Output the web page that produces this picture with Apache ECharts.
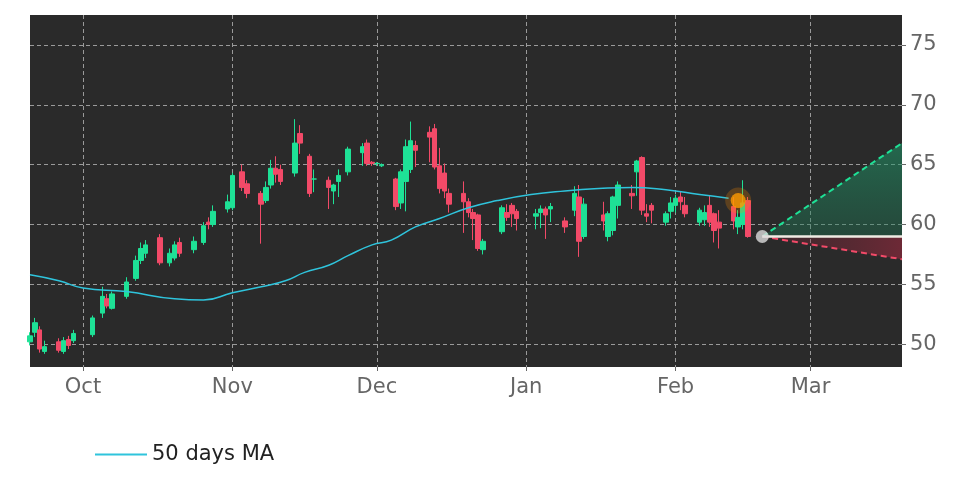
<!DOCTYPE html>
<html>
<head>
<meta charset="utf-8">
<script src="https://cdn.jsdelivr.net/npm/echarts@6/dist/echarts.min.js"></script>
<style>html,body{margin:0;background:#fff}#c{width:972px;height:486px}</style>
</head>
<body>
<div id="c"></div>
<script>
// daily candles: [date, open, close, low, high]
const candles = [
    ['2022-09-20', 50.2, 50.7, 49.9, 51.0],
    ['2022-09-21', 51.0, 51.8, 50.6, 52.2],
    ['2022-09-22', 51.2, 49.6, 49.3, 51.5],
    ['2022-09-23', 49.4, 49.8, 49.2, 50.3],
    ['2022-09-26', 50.2, 49.5, 49.3, 50.5],
    ['2022-09-27', 49.4, 50.3, 49.2, 50.6],
    ['2022-09-28', 50.4, 49.9, 49.6, 50.7],
    ['2022-09-29', 50.3, 50.9, 50.1, 51.2],
    ['2022-10-03', 50.8, 52.2, 50.6, 52.4],
    ['2022-10-05', 52.6, 54.0, 52.2, 54.8],
    ['2022-10-06', 53.8, 53.2, 53.0, 54.2],
    ['2022-10-07', 53.0, 54.2, 52.9, 54.4],
    ['2022-10-10', 54.0, 55.2, 53.8, 55.6],
    ['2022-10-12', 55.5, 57.0, 55.3, 57.4],
    ['2022-10-13', 57.0, 58.0, 56.7, 58.5],
    ['2022-10-14', 57.6, 58.3, 57.2, 58.7],
    ['2022-10-17', 58.9, 56.8, 56.6, 59.2],
    ['2022-10-19', 56.8, 57.6, 56.5, 58.0],
    ['2022-10-20', 57.2, 58.3, 57.0, 58.6],
    ['2022-10-21', 58.5, 57.6, 57.3, 58.9],
    ['2022-10-24', 57.9, 58.6, 57.6, 59.0],
    ['2022-10-26', 58.5, 59.9, 58.3, 60.2],
    ['2022-10-27', 60.2, 60.0, 59.6, 60.6],
    ['2022-10-28', 60.0, 61.1, 59.8, 61.6],
    ['2022-10-31', 61.3, 61.9, 61.0, 62.5],
    ['2022-11-01', 61.4, 64.1, 61.2, 64.3],
    ['2022-11-03', 64.4, 63.1, 62.8, 65.0],
    ['2022-11-04', 63.4, 62.6, 62.2, 63.7],
    ['2022-11-07', 62.6, 61.7, 58.4, 62.8],
    ['2022-11-08', 62.0, 63.1, 61.8, 63.6],
    ['2022-11-09', 63.3, 64.7, 63.0, 65.4],
    ['2022-11-10', 64.7, 64.2, 63.5, 65.7],
    ['2022-11-11', 64.6, 63.6, 63.3, 65.0],
    ['2022-11-14', 64.3, 66.8, 64.0, 68.8],
    ['2022-11-15', 67.6, 66.8, 65.9, 68.3],
    ['2022-11-17', 65.7, 62.6, 62.3, 65.9],
    ['2022-11-18', 63.8, 63.8, 62.7, 64.6],
    ['2022-11-21', 63.7, 63.1, 61.3, 64.0],
    ['2022-11-22', 62.8, 63.3, 61.7, 63.4],
    ['2022-11-23', 63.6, 64.1, 62.3, 64.6],
    ['2022-11-25', 64.4, 66.3, 64.1, 66.5],
    ['2022-11-28', 66.0, 66.5, 64.9, 66.8],
    ['2022-11-29', 66.8, 65.1, 64.9, 67.1],
    ['2022-11-30', 65.2, 65.1, 64.9, 65.3],
    ['2022-12-01', 65.1, 65.1, 64.9, 65.2],
    ['2022-12-02', 64.9, 65.0, 64.8, 65.1],
    ['2022-12-05', 63.8, 61.5, 61.2, 63.9],
    ['2022-12-06', 61.8, 64.4, 61.3, 64.6],
    ['2022-12-07', 63.6, 66.5, 61.1, 67.1],
    ['2022-12-08', 64.6, 67.0, 64.3, 68.6],
    ['2022-12-09', 66.6, 66.2, 64.8, 67.0],
    ['2022-12-12', 67.7, 67.3, 65.2, 68.2],
    ['2022-12-13', 68.0, 64.8, 64.6, 68.4],
    ['2022-12-14', 64.9, 63.0, 62.6, 66.4],
    ['2022-12-15', 64.3, 62.8, 62.2, 65.1],
    ['2022-12-16', 62.6, 61.7, 61.0, 63.0],
    ['2022-12-19', 62.6, 61.9, 59.3, 63.6],
    ['2022-12-20', 61.9, 61.0, 60.6, 62.2],
    ['2022-12-21', 61.0, 60.5, 58.7, 61.3],
    ['2022-12-22', 60.8, 58.0, 57.8, 60.9],
    ['2022-12-23', 57.9, 58.6, 57.5, 58.8],
    ['2022-12-27', 59.4, 61.4, 59.2, 61.6],
    ['2022-12-28', 61.0, 60.6, 60.3, 61.7],
    ['2022-12-29', 61.6, 60.9, 59.8, 61.8],
    ['2022-12-30', 61.1, 60.5, 59.5, 61.3],
    ['2023-01-03', 60.7, 60.9, 59.6, 61.3],
    ['2023-01-04', 61.0, 61.3, 59.7, 61.6],
    ['2023-01-05', 61.3, 60.8, 58.8, 61.5],
    ['2023-01-06', 61.3, 61.5, 60.2, 61.8],
    ['2023-01-09', 60.3, 59.8, 59.3, 60.6],
    ['2023-01-11', 61.2, 62.6, 60.7, 63.2],
    ['2023-01-12', 62.3, 58.6, 57.3, 63.3],
    ['2023-01-13', 59.0, 61.7, 58.8, 62.2],
    ['2023-01-17', 60.8, 60.3, 59.5, 61.9],
    ['2023-01-18', 59.0, 60.9, 58.6, 61.1],
    ['2023-01-19', 59.5, 62.3, 59.1, 62.4],
    ['2023-01-20', 61.6, 63.3, 60.5, 63.6],
    ['2023-01-23', 62.6, 62.4, 61.3, 63.3],
    ['2023-01-24', 64.4, 65.3, 62.4, 65.4],
    ['2023-01-25', 65.6, 61.2, 60.8, 65.7],
    ['2023-01-26', 60.9, 60.7, 60.2, 61.7],
    ['2023-01-27', 61.6, 61.2, 60.1, 61.8],
    ['2023-01-30', 60.2, 60.9, 59.9, 61.1],
    ['2023-01-31', 61.1, 61.8, 60.5, 62.3],
    ['2023-02-01', 61.6, 62.2, 61.0, 62.5],
    ['2023-02-02', 62.3, 61.9, 61.2, 62.8],
    ['2023-02-03', 61.6, 60.9, 60.6, 62.3],
    ['2023-02-06', 60.2, 61.2, 59.9, 61.4],
    ['2023-02-07', 60.4, 61.0, 59.9, 61.6],
    ['2023-02-08', 61.6, 60.2, 59.8, 62.4],
    ['2023-02-09', 60.9, 59.5, 58.5, 61.0],
    ['2023-02-10', 60.2, 59.7, 58.0, 61.2],
    ['2023-02-13', 61.5, 60.3, 59.6, 62.3],
    ['2023-02-14', 59.8, 60.6, 59.2, 61.2],
    ['2023-02-15', 60.0, 61.8, 59.6, 63.7],
    ['2023-02-16', 62.0, 59.0, 58.9, 62.3]
];

// 50 days moving average
const maPoints = [
    ['2022-09-20', 55.8], ['2022-09-26', 55.3], ['2022-10-01', 54.7],
    ['2022-10-10', 54.4], ['2022-10-20', 53.8], ['2022-10-26', 53.7],
    ['2022-11-01', 54.3], ['2022-11-07', 54.8], ['2022-11-12', 55.3],
    ['2022-11-16', 56.0], ['2022-11-21', 56.6], ['2022-11-25', 57.4],
    ['2022-11-30', 58.3], ['2022-12-04', 58.7], ['2022-12-09', 59.8],
    ['2022-12-14', 60.5], ['2022-12-20', 61.4], ['2022-12-26', 62.0],
    ['2023-01-02', 62.5], ['2023-01-09', 62.8], ['2023-01-16', 63.0],
    ['2023-01-23', 63.1], ['2023-01-30', 62.9], ['2023-02-06', 62.5],
    ['2023-02-12', 62.2]
];

const lastOpen = ['2023-02-14', 62.0];
const forecastStart = ['2023-02-19', 59.0];
const forecastEnd = '2023-03-20';
const forecastHigh = 66.8;
const forecastLow = 57.1;

const monthTicks = ['2022-10-01', '2022-11-01', '2022-12-01', '2023-01-01', '2023-02-01', '2023-03-01'];
const monthNames = ['Jan', 'Feb', 'Mar', 'Apr', 'May', 'Jun', 'Jul', 'Aug', 'Sep', 'Oct', 'Nov', 'Dec'];
const priceTicks = [50, 55, 60, 65, 70, 75];

const green = '#1ee196';
const red = '#f24a68';
const gridLine = { show: true, lineStyle: { color: '#9a9a9a', type: [4, 3], width: 1 } };
const ts = (d) => new Date(d + 'T00:00:00').getTime();

const chart = echarts.init(document.getElementById('c'));
chart.setOption({
    animation: false,
    backgroundColor: '#ffffff',
    grid: {
        left: 30, right: 70, top: 15, bottom: 119,
        show: true, backgroundColor: '#2a2a2a', borderWidth: 0
    },
    legend: {
        left: 90, bottom: 16,
        itemWidth: 52, itemHeight: 2, itemGap: 20,
        textStyle: { color: '#222', fontSize: 21, fontFamily: 'DejaVu Sans' },
        data: [{ name: '50 days MA', icon: 'rect' }]
    },
    xAxis: {
        type: 'value',
        min: ts('2022-09-20'), max: ts(forecastEnd),
        axisLine: { show: false },
        axisTick: { show: true, customValues: monthTicks.map(ts), length: 4, lineStyle: { color: '#666' } },
        axisLabel: {
            customValues: monthTicks.map(ts),
            formatter: (v) => monthNames[new Date(v).getMonth()],
            color: '#666', fontSize: 21, fontFamily: 'DejaVu Sans', margin: 10
        },
        splitLine: gridLine
    },
    yAxis: {
        type: 'value', position: 'right',
        min: 48.1, max: 77.5,
        axisLine: { show: false },
        axisTick: { show: true, customValues: priceTicks, length: 4, lineStyle: { color: '#666' } },
        axisLabel: {
            customValues: priceTicks,
            color: '#666', fontSize: 21, fontFamily: 'DejaVu Sans', margin: 8
        },
        splitLine: gridLine
    },
    series: [
        {
            type: 'candlestick',
            barWidth: 5,
            itemStyle: { color: green, color0: red, borderColor: green, borderColor0: red, borderWidth: 1 },
            data: candles.map((c) => [ts(c[0]), c[1], c[2], c[3], c[4]])
        },
        {
            name: '50 days MA', type: 'line', smooth: true, showSymbol: false,
            lineStyle: { color: '#2fc4dc', width: 1.5 }, itemStyle: { color: '#2fc4dc' },
            data: maPoints.map((p) => [ts(p[0]), p[1]])
        },
        {
            type: 'line', showSymbol: false,
            lineStyle: { color: green, width: 2, type: [6, 4] },
            areaStyle: { origin: forecastStart[1], color: new echarts.graphic.LinearGradient(0, 0, 0, 1, [
                { offset: 0, color: 'rgba(30,160,110,0.75)' }, { offset: 1, color: 'rgba(30,120,85,0.55)' }]) },
            data: [[ts(forecastStart[0]), forecastStart[1]], [ts(forecastEnd), forecastHigh]]
        },
        {
            type: 'line', showSymbol: false,
            lineStyle: { color: red, width: 2, type: [6, 4] },
            areaStyle: { origin: forecastStart[1], color: new echarts.graphic.LinearGradient(0, 0, 1, 0, [
                { offset: 0, color: 'rgba(120,40,55,0.3)' }, { offset: 1, color: 'rgba(170,40,65,0.75)' }]) },
            data: [[ts(forecastStart[0]), forecastStart[1]], [ts(forecastEnd), forecastLow]]
        },
        {
            type: 'line', showSymbol: false,
            lineStyle: { color: '#f0ece4', width: 2.5 },
            data: [[ts(forecastStart[0]), forecastStart[1]], [ts(forecastEnd), forecastStart[1]]]
        },
        {
            type: 'scatter', symbolSize: 26, z: 5,
            itemStyle: { color: 'rgba(255,140,0,0.3)' },
            data: [[ts(lastOpen[0]), lastOpen[1]]]
        },
        {
            type: 'scatter', symbolSize: 15, z: 6,
            itemStyle: { color: '#ff9a00' },
            data: [[ts(lastOpen[0]), lastOpen[1]]]
        },
        {
            type: 'scatter', symbolSize: 13, z: 6,
            itemStyle: { color: '#dcdcdc' },
            data: [forecastStart].map((p) => [ts(p[0]), p[1]])
        }
    ]
});
</script>
</body>
</html>
